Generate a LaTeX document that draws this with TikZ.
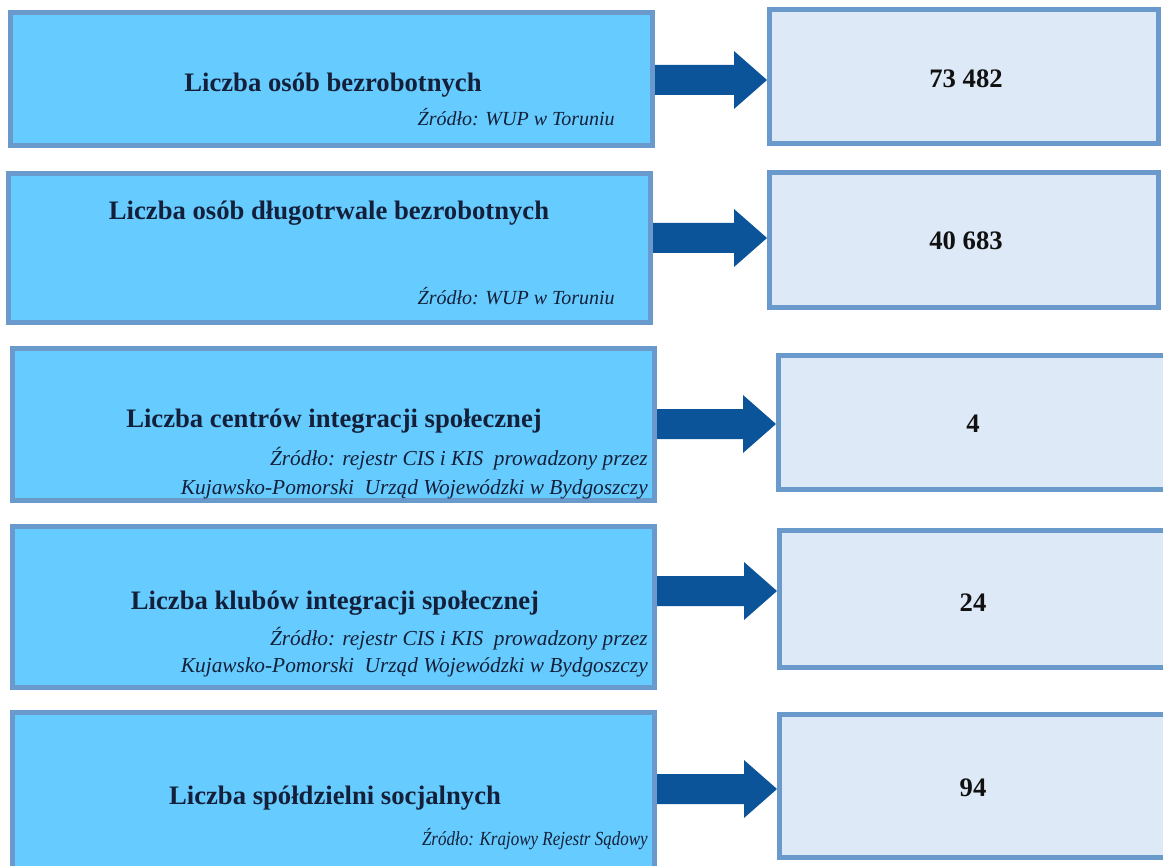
\documentclass[tikz,border=0pt]{standalone}
\usepackage{fontspec}
\setmainfont{Liberation Serif}
\newfontfamily\condserif[FakeStretch=0.85]{Liberation Serif}
\usetikzlibrary{fit,calc}
\definecolor{lfill}{HTML}{66CCFF}
\definecolor{bord}{HTML}{6A9ACB}
\definecolor{rfill}{HTML}{DDE9F6}
\definecolor{arr}{HTML}{0C5499}
\definecolor{ink}{HTML}{14203A}
\definecolor{numink}{HTML}{111111}
\newcommand{\blockarr}[3]{%
  \fill[arr] ($(#1.east |- #3)+(0,-15)$) -- ($(#2.west |- #3)+(-33,-15)$)
    -- ($(#2.west |- #3)+(-33,-29)$) -- (#2.west |- #3)
    -- ($(#2.west |- #3)+(-33,29)$) -- ($(#2.west |- #3)+(-33,15)$)
    -- ($(#1.east |- #3)+(0,15)$) -- cycle;}
\begin{document}
\begin{tikzpicture}[x=0.75pt,y=-0.75pt,
  lbox/.style={draw=bord, fill=lfill, line width=3.75pt, inner sep=0pt},
  rbox/.style={draw=bord, fill=rfill, line width=3.75pt, inner sep=0pt},
  ttl/.style={anchor=base, text=ink, font=\fontsize{20}{24}\selectfont\bfseries, inner sep=0pt},
  src/.style={anchor=base east, text=ink, font=\fontsize{15}{18}\selectfont\itshape, inner sep=0pt},
  srcb/.style={anchor=base east, text=ink, font=\fontsize{16}{19}\selectfont\itshape, inner sep=0pt},
  srcc/.style={anchor=base east, text=ink, font=\condserif\fontsize{15}{18}\selectfont\itshape, inner sep=0pt},
  num/.style={anchor=base, text=numink, font=\fontsize{20}{24}\selectfont\bfseries, inner sep=0pt}]
\useasboundingbox (0,0) rectangle (1163,866);
\clip (0,0) rectangle (1163,866);
\fill[white] (0,0) rectangle (1163,866);
% left boxes
\node[lbox, fit={(10.5,12.5)(652.5,145.5)}] (l1) {};
\node[lbox, fit={(8.5,173.5)(650.5,322.5)}] (l2) {};
\node[lbox, fit={(12.5,348.5)(654.5,500.5)}] (l3) {};
\node[lbox, fit={(12.5,526.5)(654.5,687.5)}] (l4) {};
\node[lbox, fit={(12.5,712.5)(654.5,880)}] (l5) {};
% right boxes
\node[rbox, fit={(769.5,9.5)(1158.5,143.5)}] (r1) {};
\node[rbox, fit={(769.5,172.5)(1158.5,307.5)}] (r2) {};
\node[rbox, fit={(778.5,355.5)(1175,489.5)}] (r3) {};
\node[rbox, fit={(779.5,530.5)(1175,667.5)}] (r4) {};
\node[rbox, fit={(779.5,714.5)(1175,857.5)}] (r5) {};
% arrow levels
\coordinate (y1) at (0,80);
\coordinate (y2) at (0,238);
\coordinate (y3) at (0,424);
\coordinate (y4) at (0,591);
\coordinate (y5) at (0,789);
\blockarr{l1}{r1}{y1}
\blockarr{l2}{r2}{y2}
\blockarr{l3}{r3}{y3}
\blockarr{l4}{r4}{y4}
\blockarr{l5}{r5}{y5}
% texts
\node[ttl] (t1) at (333,92) {Liczba osób bezrobotnych};
\node[src] (s1) at (615,126) {Źródło: WUP w Toruniu};
\node[ttl] (t2) at (329,220) {Liczba osób długotrwale bezrobotnych};
\node[src] (s2) at (615,305) {Źródło: WUP w Toruniu};
\node[ttl] (t3) at (334,427) {Liczba centrów integracji społecznej};
\node[srcb] (s3a) at (648,465) {Źródło: rejestr CIS i KIS~~prowadzony przez};
\node[srcb] (s3b) at (648,494) {Kujawsko-Pomorski~~Urząd Wojewódzki w Bydgoszczy};
\node[ttl] (t4) at (335,609) {Liczba klubów integracji społecznej};
\node[srcb] (s4a) at (648,645) {Źródło: rejestr CIS i KIS~~prowadzony przez};
\node[srcb] (s4b) at (648,672) {Kujawsko-Pomorski~~Urząd Wojewódzki w Bydgoszczy};
\node[ttl] (t5) at (335,804) {Liczba spółdzielni socjalnych};
\node[srcc] (s5) at (648,845) {Źródło: Krajowy Rejestr Sądowy};
% numbers
\node[num] (n1) at (966,88) {73 482};
\node[num] (n2) at (966,250) {40 683};
\node[num] (n3) at (973,432) {4};
\node[num] (n4) at (973,611) {24};
\node[num] (n5) at (973,796) {94};
\end{tikzpicture}
\end{document}
